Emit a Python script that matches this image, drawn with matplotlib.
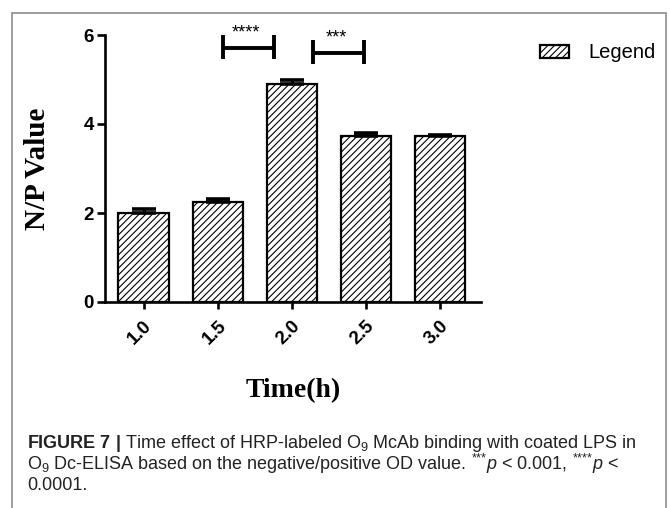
import matplotlib
matplotlib.use("Agg")
import matplotlib.pyplot as plt
from matplotlib.patches import Rectangle

# data
times = ["1.0", "1.5", "2.0", "2.5", "3.0"]
np_values = [2.00, 2.25, 4.90, 3.72, 3.72]
np_errors = [0.09, 0.07, 0.09, 0.08, 0.04]

# significance brackets: (x start, x end, y, stars)
sig_pairs = [(1.07, 1.76, 5.71, "****"), (2.28, 2.97, 5.60, "***")]

plt.rcParams["mathtext.fontset"] = "custom"
plt.rcParams["mathtext.rm"] = "Liberation Sans"
plt.rcParams["mathtext.it"] = "Liberation Sans:italic"
plt.rcParams["mathtext.bf"] = "Liberation Sans:bold"
plt.rcParams["hatch.linewidth"] = 0.8

fig = plt.figure(figsize=(6.7, 5.08), dpi=100)
ax = fig.add_axes([105 / 670, 1 - 302 / 508, 376 / 670, 267 / 508])

x = range(len(times))
ax.bar(x, np_values, width=0.68, color="white", edgecolor="black",
       linewidth=1.6, hatch="/////", label="Legend", zorder=2)
lower = [0] * len(np_errors)
ax.errorbar(x, np_values, yerr=[lower, np_errors], fmt="none", ecolor="black",
            elinewidth=2, capsize=8.5, capthick=2.6, zorder=3)

# brackets with stars
for x0, x1, y, stars in sig_pairs:
    ax.plot([x0, x1], [y, y], color="black", lw=2.8, clip_on=False,
            solid_capstyle="butt")
    for xx in (x0, x1):
        ax.plot([xx, xx], [y - 0.26, y + 0.28], color="black", lw=2.8,
                clip_on=False, solid_capstyle="butt")
    ax.text((x0 + x1) / 2 - 0.03, y + 0.33, stars, ha="center", va="center",
            fontsize=13, family="Liberation Sans")

ax.set_xlim(-0.52, 4.55)
ax.set_ylim(0, 6)
ax.set_yticks([0, 2, 4, 6])
ax.set_xticks(list(x))
ax.set_xticklabels(times, rotation=45, ha="right", rotation_mode="anchor")

for s in ("top", "right"):
    ax.spines[s].set_visible(False)
for s in ("left", "bottom"):
    ax.spines[s].set_linewidth(1.9)

ax.tick_params(axis="y", length=6, width=1.9, pad=2)
ax.tick_params(axis="x", length=5, width=1.9, pad=6)
for lab in ax.get_xticklabels() + ax.get_yticklabels():
    lab.set_family("Liberation Sans")
    lab.set_fontweight("bold")
    lab.set_fontsize(13.5)

ax.set_ylabel("N/P Value", family="Liberation Serif", fontweight="bold",
              fontsize=21)
ax.yaxis.set_label_coords(-0.18, 0.5)
ax.yaxis.label.set_va("center")
ax.set_xlabel("Time(h)", family="Liberation Serif", fontweight="bold",
              fontsize=20)
ax.xaxis.set_label_coords(0.5, -0.33)
ax.xaxis.label.set_va("center")

fig.legend(loc="center left", bbox_to_anchor=(540 / 670, 1 - 53 / 508),
           frameon=False, handlelength=1.45, handleheight=0.65,
           handletextpad=0.95, borderpad=0, borderaxespad=0,
           prop={"family": "Liberation Sans", "size": 14.5})

# caption
cap_lines = [
    r"$\mathbf{FIGURE\ 7\ |}$ Time effect of HRP-labeled O$_9$ McAb binding with coated LPS in",
    r"O$_9$ Dc-ELISA based on the negative/positive OD value. $^{{*}{*}{*}}p$ < 0.001, $^{{*}{*}{*}{*}}p$ <",
    "0.0001.",
]
cap_y = [443, 464, 485]
for line, yy in zip(cap_lines, cap_y):
    fig.text(27 / 670, 1 - yy / 508, line, ha="left", va="center",
             fontsize=13, family="Liberation Sans", color="#222222")

# grey frame around the figure
fig.add_artist(Rectangle((12 / 670, -0.05), 654 / 670, 1.05 - 13 / 508,
                         transform=fig.transFigure, fill=False,
                         edgecolor="#8c8c8c", linewidth=1.2))

fig.savefig("out.png", dpi=100)
